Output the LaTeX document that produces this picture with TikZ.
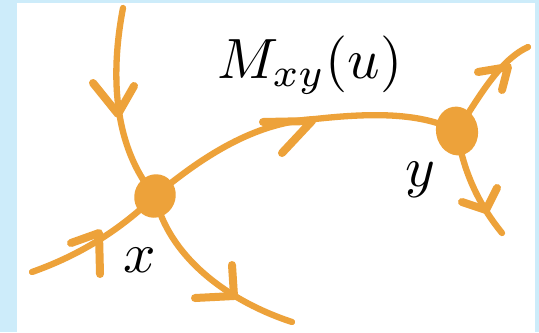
\documentclass[tikz,border=0pt]{standalone}
\usetikzlibrary{shapes.geometric}
\definecolor{flow}{RGB}{237,162,58}
\definecolor{frame}{RGB}{205,236,250}
\pgfdeclarelayer{bg}
\pgfsetlayers{bg,main}
\begin{document}
\begin{tikzpicture}[x=1bp,y=-1bp,
  line/.style={draw=flow,line width=6.3bp,line cap=round,line join=round},
  barb/.style={draw=flow,line width=8bp,line cap=round,line join=round},
  blob/.style={ellipse,fill=flow,inner sep=0pt},
  lab/.style={anchor=base,inner sep=0pt,scale=5.7}]
\useasboundingbox (0,0) rectangle (539,332);
% vertices
\node[blob,minimum width=41bp,minimum height=44bp,rotate=-25] (x) at (155,196) {};
\node[blob,minimum width=42bp,minimum height=49bp,rotate=10] (y) at (457,131) {};
% free ends
\coordinate (top) at (123,8);
\coordinate (left) at (32,272);
\coordinate (bot) at (292,322);
\coordinate (mid) at (315,119);
\coordinate (ur) at (528,47);
\coordinate (dr) at (502,233);
\begin{pgfonlayer}{bg}
\fill[frame] (0,0) rectangle (539,332);
\fill[white] (17,3) rectangle (535,332);
\draw[line] (top) .. controls (113,60) and (108,140) .. (x.center);
\draw[line] (left) .. controls (80,255) and (120,230) .. (x.center);
\draw[line] (x.center) .. controls (168,255) and (225,300) .. (bot);
\draw[line] (x.center) .. controls (210,150) and (260,122) .. (mid)
            .. controls (370,113) and (420,112) .. (y.center);
\draw[line] (y.center) .. controls (480,95) and (500,60) .. (ur);
\draw[line] (y.center) .. controls (462,165) and (475,200) .. (dr);
\end{pgfonlayer}
% arrow barbs
\draw[barb] (93,83) -- (118,114) -- (134,86);
\draw[barb] (71,243) -- (99,233) -- (100,274);
\draw[barb] (232,265) -- (234,296) -- (195,298);
\draw[barb] (263,122) -- (312,121) -- (282,153);
\draw[barb] (478,72) -- (508,67) -- (502,90);
\draw[barb] (462,202) -- (486,210) -- (497,188);
% labels
\node[lab] (M) at (310,78) {$M_{xy}(u)$};
\node[lab] (lx) at (140,272) {$x$};
\node[lab] (ly) at (420,186) {$y$};
\end{tikzpicture}
\end{document}
